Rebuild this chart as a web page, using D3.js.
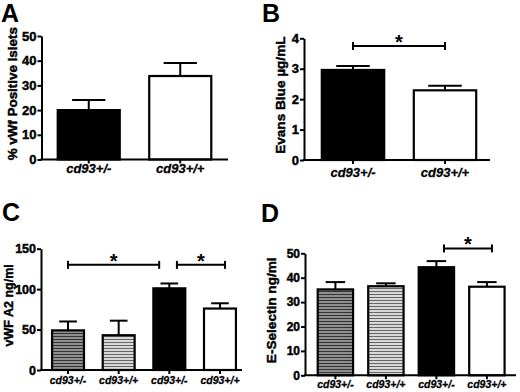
<!DOCTYPE html>
<html><head><meta charset="utf-8">
<script src="https://cdn.jsdelivr.net/npm/d3@7/dist/d3.min.js"></script>
<style>body{margin:0;background:#fff}</style>
</head><body>
<svg id="c" width="520" height="392" font-family="Liberation Sans, Arial, sans-serif" font-weight="bold"></svg>
<script>
// ---- data ----
const catsAB = ["cd93+/-", "cd93+/+"];
const catsCD = ["cd93+/-", "cd93+/+", "cd93+/-", "cd93+/+"];
const aMean = [20, 33.8];
const aErr = [4.1, 5.3];
const bMean = [2.96, 2.29];
const bErr = [0.13, 0.15];
const cMean = [49, 43, 101, 76];
const cErr = [11, 18, 6, 6.5];
const dMean = [35.2, 36.5, 44.3, 36.3];
const dErr = [3, 1.2, 2.5, 1.9];
const aTicks = [0, 10, 20, 30, 40, 50];
const bTicks = [0, 1, 2, 3, 4];
const cTicks = [0, 50, 100, 150];
const dTicks = [0, 10, 20, 30, 40, 50];
const bSig = [[0, 1, 3.75]];
const cSig = [[0, 1.8, 130], [2.15, 3.1, 130]];
const dSig = [[2.15, 3.1, 52]];
const letters = ["A", "B", "C", "D"];
const yTitles = ["% vWf Positive Islets", "Evans Blue µg/mL", "vWF A2  ng/ml", "E-Selectin ng/ml"];

// ---- drawing ----
const FONT = "Liberation Sans, Arial, sans-serif";
const SW = 0.45;
const svg = d3.select("#c");
const defs = svg.append("defs");
function hatch(id, bg, line) {
  const p = defs.append("pattern").attr("id", id).attr("patternUnits", "userSpaceOnUse")
    .attr("width", 6).attr("height", 3);
  p.append("rect").attr("width", 6).attr("height", 3).attr("fill", bg);
  p.append("rect").attr("width", 6).attr("height", 1).attr("fill", line);
}
hatch("hDark", "#8f8f8f", "#333");
hatch("hLight", "#d8d8d8", "#666");
const fillAB = ["#000", "#fff"];
const fillCD = ["url(#hDark)", "url(#hLight)", "#000", "#fff"];

const panels = [
  {cats: catsAB, mean: aMean, err: aErr, ticks: aTicks, sig: [], fill: fillAB, ymax: 50,
   ax: 41.5, axEnd: 228, xr: [43, 226], pi: 0.3, po: 0.15, yr: [159.5, 36],
   tf: 13, xf: 13, xlY: 173, title: yTitles[0], tx: 17, tf2: 13.4, letter: letters[0], lx: 1, ly: 22},
  {cats: catsAB, mean: bMean, err: bErr, ticks: bTicks, sig: bSig, fill: fillAB, ymax: 4,
   ax: 304, axEnd: 490, xr: [307, 491], pi: 0.3, po: 0.15, yr: [160, 38.3],
   tf: 13, xf: 13, xlY: 177, title: yTitles[1], tx: 285, tf2: 13.6, letter: letters[1], lx: 262, ly: 22},
  {cats: catsCD, mean: cMean, err: cErr, ticks: cTicks, sig: cSig, fill: fillCD, ymax: 150,
   ax: 41, axEnd: 242, xr: [46, 242], pi: 0.33, po: 0.1, yr: [370, 248.7],
   tf: 12.5, xf: 10.5, xlY: 384, title: yTitles[2], tx: 13, tf2: 12.5, letter: letters[2], lx: 2, ly: 221},
  {cats: catsCD, mean: dMean, err: dErr, ticks: dTicks, sig: dSig, fill: fillCD, ymax: 50,
   ax: 305, axEnd: 516, xr: [310, 512.3], pi: 0.26, po: 0.133, yr: [375.3, 253.3],
   tf: 12, xf: 10.5, xlY: 388, title: yTitles[3], tx: 276, tf2: 13.6, letter: letters[3], lx: 261, ly: 222}
];

panels.forEach(p => {
  const g = svg.append("g");
  const n = p.cats.length;
  const x = d3.scaleBand().domain(d3.range(n)).range(p.xr).paddingInner(p.pi).paddingOuter(p.po);
  const bw = x.bandwidth();
  const xc = d3.scaleLinear().domain([0, n - 1]).range([x(0) + bw / 2, x(n - 1) + bw / 2]);
  const y = d3.scaleLinear().domain([0, p.ymax]).range(p.yr);

  // error bars
  g.selectAll("line.stem").data(p.mean).join("line")
    .attr("x1", (d, i) => xc(i)).attr("x2", (d, i) => xc(i))
    .attr("y1", d => y(d)).attr("y2", (d, i) => y(d + p.err[i]))
    .attr("stroke", "#000").attr("stroke-width", 2);
  g.selectAll("line.cap").data(p.mean).join("line")
    .attr("x1", (d, i) => xc(i) - bw * 0.26).attr("x2", (d, i) => xc(i) + bw * 0.26)
    .attr("y1", (d, i) => y(d + p.err[i])).attr("y2", (d, i) => y(d + p.err[i]))
    .attr("stroke", "#000").attr("stroke-width", 2);

  // bars
  g.selectAll("rect.bar").data(p.mean).join("rect")
    .attr("x", (d, i) => x(i) + 1).attr("y", d => y(d))
    .attr("width", bw - 2).attr("height", d => y(0) - y(d))
    .attr("fill", (d, i) => p.fill[i]).attr("stroke", "#000").attr("stroke-width", 2.2);

  // y axis
  const ya = g.append("g").attr("transform", `translate(${p.ax},0)`)
    .call(d3.axisLeft(y).tickValues(p.ticks).tickFormat(d3.format("d"))
      .tickSize(4).tickPadding(1).tickSizeOuter(0));
  ya.attr("font-family", FONT).attr("font-weight", "bold").attr("font-size", p.tf);
  ya.select(".domain").attr("stroke-width", 2);
  ya.selectAll(".tick line").attr("stroke-width", 2);
  ya.selectAll(".tick text").attr("fill", "#000").attr("stroke", "#000").attr("stroke-width", SW);

  // x axis
  g.append("line").attr("x1", p.ax - 1).attr("x2", p.axEnd).attr("y1", y(0)).attr("y2", y(0))
    .attr("stroke", "#000").attr("stroke-width", 2);
  g.selectAll("line.xt").data(p.cats).join("line")
    .attr("x1", (d, i) => xc(i)).attr("x2", (d, i) => xc(i))
    .attr("y1", y(0)).attr("y2", y(0) + 4).attr("stroke", "#000").attr("stroke-width", 2);
  g.selectAll("text.xl").data(p.cats).join("text")
    .attr("x", (d, i) => xc(i)).attr("y", p.xlY).attr("text-anchor", "middle")
    .attr("font-family", FONT).attr("font-weight", "bold")
    .attr("stroke", "#000").attr("stroke-width", SW * 0.6)
    .attr("font-size", p.xf).attr("font-style", "italic").text(d => d);

  // y title
  const ymid = (p.yr[0] + p.yr[1]) / 2 - 4;
  g.append("text").attr("transform", `translate(${p.tx},${ymid}) rotate(-90)`)
    .attr("text-anchor", "middle").attr("font-family", FONT).attr("font-weight", "bold")
    .attr("stroke", "#000").attr("stroke-width", SW)
    .attr("font-size", p.tf2).text(p.title);

  // significance brackets
  p.sig.forEach(s => {
    const x1 = xc(s[0]), x2 = xc(s[1]), yy = y(s[2]);
    g.append("line").attr("x1", x1).attr("x2", x2).attr("y1", yy).attr("y2", yy)
      .attr("stroke", "#000").attr("stroke-width", 2);
    [x1, x2].forEach(xx => g.append("line").attr("x1", xx).attr("x2", xx)
      .attr("y1", yy - 4).attr("y2", yy + 4).attr("stroke", "#000").attr("stroke-width", 2));
    g.append("text").attr("x", (x1 + x2) / 2).attr("y", yy + 3).attr("text-anchor", "middle")
      .attr("font-family", FONT).attr("font-weight", "bold").attr("font-size", 20).text("*");
  });

  // panel letter
  g.append("text").attr("x", p.lx).attr("y", p.ly).attr("font-family", FONT)
    .attr("font-weight", "bold").attr("font-size", 25).text(p.letter);
});
</script>
</body></html>
